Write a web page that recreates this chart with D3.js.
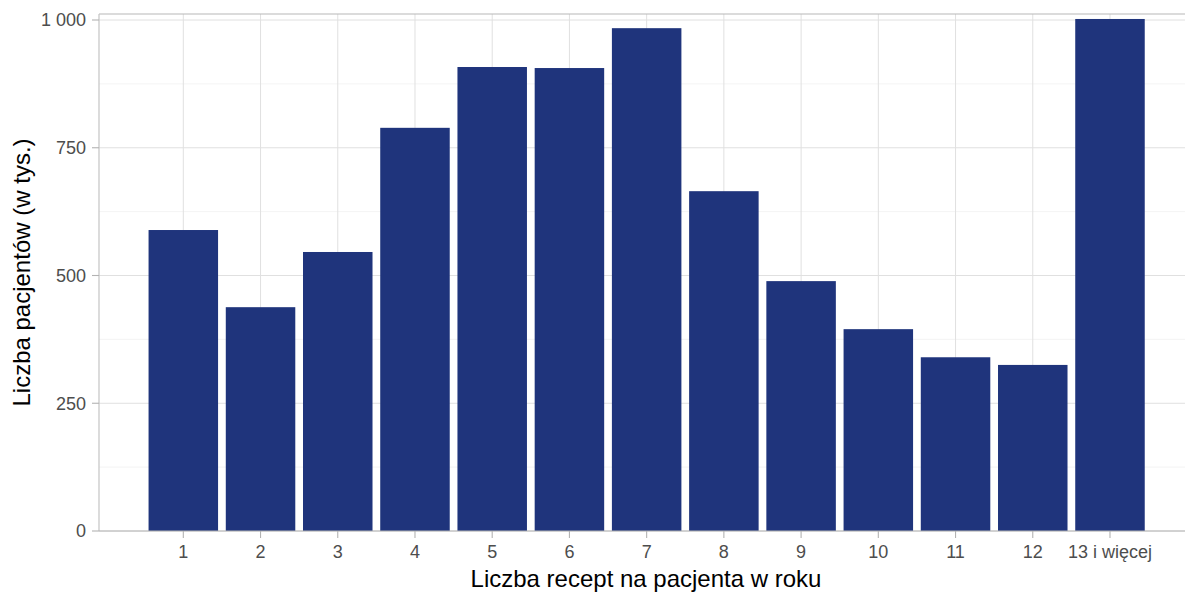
<!DOCTYPE html>
<html><head><meta charset="utf-8">
<script src="https://cdn.jsdelivr.net/npm/d3@7"></script>
<style>body{margin:0;background:#fff}svg{display:block}text{font-family:"Liberation Sans",Arial,sans-serif}</style>
</head><body><svg id="c" width="1185" height="592"></svg>
<script>
const categories = ["1","2","3","4","5","6","7","8","9","10","11","12","13 i więcej"];
const values = [589, 438, 546, 789, 908, 906, 984, 665, 489, 395, 340, 325, 1002];
const yTicks = [0, 250, 500, 750, 1000];
const yTickLabels = ["0", "250", "500", "750", "1 000"];
const yMinor = [125, 375, 625, 875];

(function(){
const svg = d3.select("#c");
const pL = 99, pR = 1186, pT = 14, pB = 531;
const x = d3.scaleBand().domain(categories).range([144.7, 1148.6]).paddingInner(0.1).paddingOuter(0.05);
const y = d3.scaleLinear().domain([0, 1000]).range([pB, 20]);

const g = svg.append("g");
g.selectAll(".mn").data(yMinor).join("line")
  .attr("x1", pL).attr("x2", pR).attr("y1", d=>y(d)).attr("y2", d=>y(d))
  .attr("stroke", "#ededed").attr("stroke-width", 0.6);
g.selectAll(".mj").data(yTicks).join("line")
  .attr("x1", pL).attr("x2", pR).attr("y1", d=>y(d)).attr("y2", d=>y(d))
  .attr("stroke", "#e0e0e0").attr("stroke-width", 1);
g.selectAll(".vx").data(categories).join("line")
  .attr("x1", d=>x(d)+x.bandwidth()/2).attr("x2", d=>x(d)+x.bandwidth()/2)
  .attr("y1", pT).attr("y2", pB)
  .attr("stroke", "#e0e0e0").attr("stroke-width", 1);

g.selectAll(".bar").data(values).join("rect")
  .attr("x", (d,i)=>x(categories[i])).attr("width", x.bandwidth())
  .attr("y", d=>y(d)).attr("height", d=>pB - y(d))
  .attr("fill", "#1f347c");

g.append("line").attr("x1", pL).attr("x2", pR).attr("y1", pT).attr("y2", pT).attr("stroke", "#b8b8b8").attr("stroke-width", 1.2);
g.append("line").attr("x1", pL).attr("x2", pL).attr("y1", pT).attr("y2", pB).attr("stroke", "#c4c4c4").attr("stroke-width", 1.2);
g.append("line").attr("x1", pL).attr("x2", pR).attr("y1", pB).attr("y2", pB).attr("stroke", "#b3b3b3").attr("stroke-width", 1.2);

g.selectAll(".yt").data(yTicks).join("line")
  .attr("x1", pL-7).attr("x2", pL).attr("y1", d=>y(d)).attr("y2", d=>y(d))
  .attr("stroke", "#b3b3b3").attr("stroke-width", 1.1);
g.selectAll(".yl").data(yTicks).join("text")
  .attr("x", 86).attr("y", d=>y(d)).attr("dy", "0.35em").attr("text-anchor", "end")
  .attr("font-size", 18).attr("fill", "#4d4d4d").text((d,i)=>yTickLabels[i]);

g.selectAll(".xt").data(categories).join("line")
  .attr("x1", d=>x(d)+x.bandwidth()/2).attr("x2", d=>x(d)+x.bandwidth()/2)
  .attr("y1", pB).attr("y2", pB+7)
  .attr("stroke", "#b3b3b3").attr("stroke-width", 1.1);
g.selectAll(".xl").data(categories).join("text")
  .attr("x", d=>x(d)+x.bandwidth()/2).attr("y", 558).attr("text-anchor", "middle")
  .attr("font-size", 18).attr("fill", "#4d4d4d").text(d=>d);

svg.append("text").attr("x", 646).attr("y", 587).attr("text-anchor", "middle")
  .attr("font-size", 24).attr("fill", "#000").text("Liczba recept na pacjenta w roku");
svg.append("text").attr("transform", `translate(30,${(pT+pB)/2}) rotate(-90)`).attr("text-anchor", "middle")
  .attr("font-size", 24).attr("fill", "#000").text("Liczba pacjentów (w tys.)");
})();
</script></body></html>
